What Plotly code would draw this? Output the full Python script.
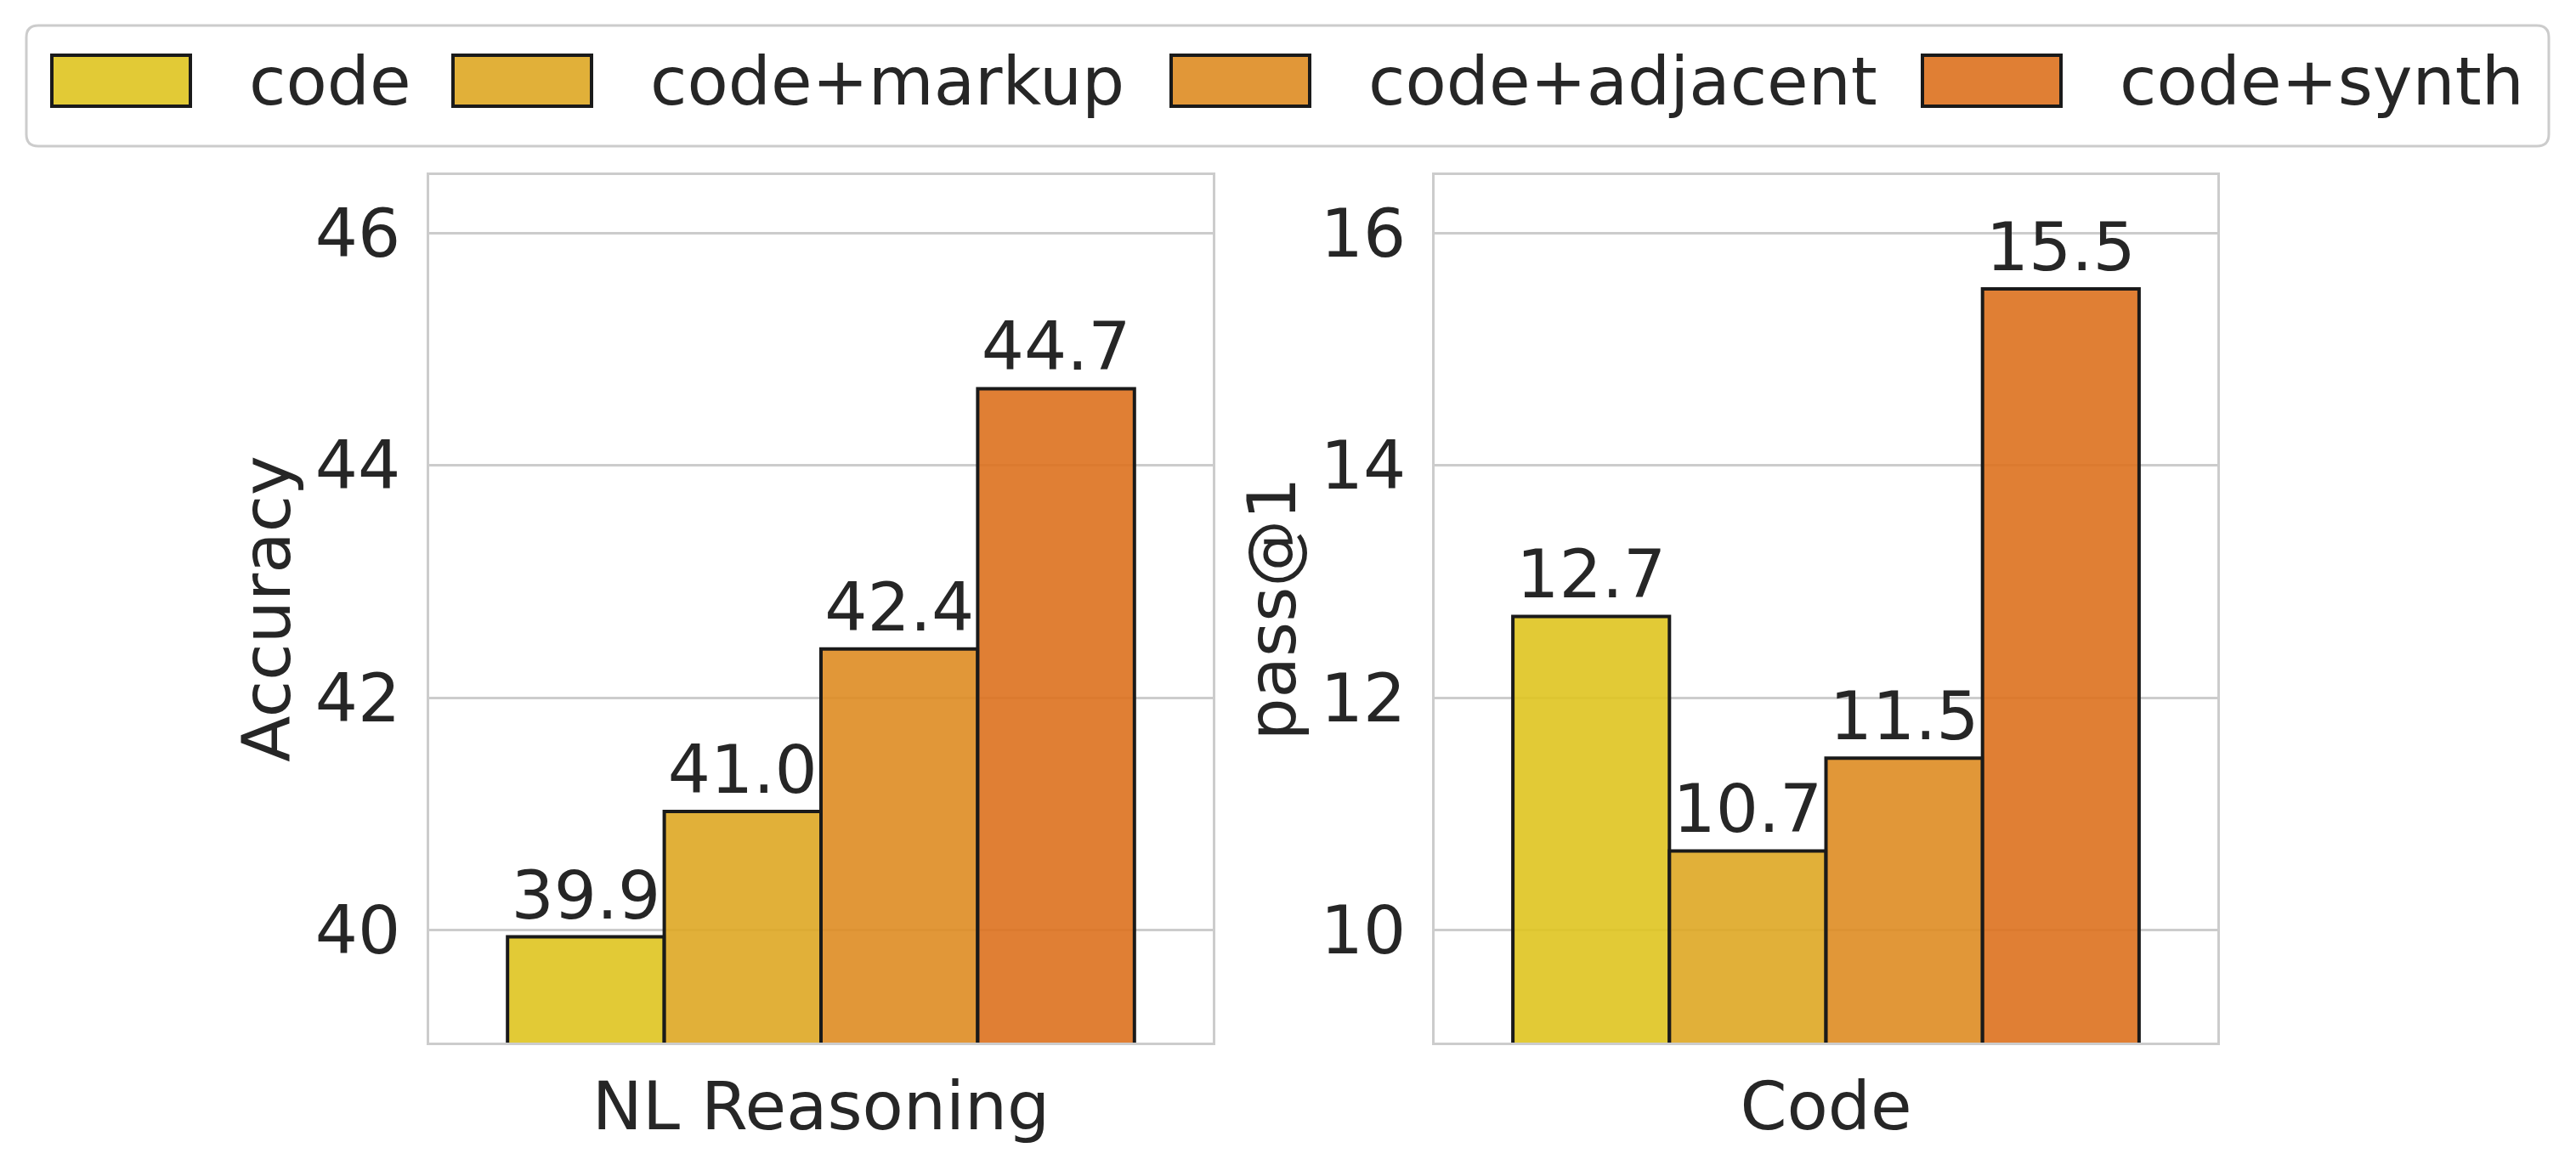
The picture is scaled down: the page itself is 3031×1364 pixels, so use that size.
import plotly.graph_objects as go

# data
series = ["code", "code+markup", "code+adjacent", "code+synth"]
colors = [(223, 196, 32), (222, 167, 36), (222, 140, 34), (221, 113, 30)]
panels = ["NL Reasoning", "Code"]
nl_accuracy = [39.94, 41.02, 42.42, 44.66]
code_pass1 = [12.70, 10.68, 11.48, 15.52]
y_titles = ["Accuracy", "pass@1"]
y_ranges = [[39.03, 46.5], [9.03, 16.5]]
y_ticks = [[40, 42, 44, 46], [10, 12, 14, 16]]

W, H = 3031, 1364
OFF = 8  # default body margin of the html page
FW, FH = W - 2 * OFF, H - 2 * OFF
FONT = "DejaVu Sans"
TXT = "#262626"
FS = 79


def px(x):
    return (x - OFF) / FW


def py(y):
    return 1 - (y - OFF) / FH


def rgba(c, a):
    return "rgba(%d,%d,%d,%s)" % (c[0], c[1], c[2], a)


fig = go.Figure()

for i, name in enumerate(series):
    for j, vals in enumerate([nl_accuracy, code_pass1]):
        fig.add_trace(go.Bar(
            x=[panels[j]], y=[vals[i]], name=name,
            xaxis="x" if j == 0 else "x2", yaxis="y" if j == 0 else "y2",
            marker=dict(color=rgba(colors[i], 0.9), line=dict(color="#1a1a1a", width=4)),
            texttemplate="%{y:.1f}", textposition="outside", cliponaxis=False,
            constraintext="none", textfont=dict(size=FS, color=TXT, family=FONT),
            showlegend=False,
        ))

axis_common = dict(showline=True, mirror=True, linecolor="#cccccc", linewidth=2.7,
                   tickfont=dict(size=FS, color=TXT, family=FONT), ticks="")
fig.update_layout(
    width=FW, height=FH, margin=dict(l=0, r=0, t=0, b=0),
    paper_bgcolor="white", plot_bgcolor="white",
    barmode="group", bargap=0.2, bargroupgap=0,
    font=dict(family=FONT, size=FS, color=TXT),
    xaxis=dict(domain=[px(505), px(1427)], anchor="y", showgrid=False,
               ticklabelstandoff=4, **axis_common),
    xaxis2=dict(domain=[px(1688), px(2609)], anchor="y2", showgrid=False,
                ticklabelstandoff=4, **axis_common),
    yaxis=dict(domain=[py(1227), py(206)], anchor="x", range=y_ranges[0],
               tickvals=y_ticks[0], showgrid=True, gridcolor="#cccccc", gridwidth=2.7,
               zeroline=False, ticklabelstandoff=15,
               title=dict(text=y_titles[0], font=dict(size=FS, color=TXT), standoff=4),
               **axis_common),
    yaxis2=dict(domain=[py(1227), py(206)], anchor="x2", range=y_ranges[1],
                tickvals=y_ticks[1], showgrid=True, gridcolor="#cccccc", gridwidth=2.7,
                zeroline=False, ticklabelstandoff=15,
                title=dict(text=y_titles[1], font=dict(size=FS, color=TXT), standoff=4),
                **axis_common),
)

# legend drawn as a framed row of swatches
bx0, bx1, by0, by1, r = 31, 2999, 30, 172, 14
box = ("M %f,%f L %f,%f Q %f,%f %f,%f L %f,%f Q %f,%f %f,%f L %f,%f Q %f,%f %f,%f "
       "L %f,%f Q %f,%f %f,%f Z") % (
    px(bx0 + r), py(by0), px(bx1 - r), py(by0), px(bx1), py(by0), px(bx1), py(by0 + r),
    px(bx1), py(by1 - r), px(bx1), py(by1), px(bx1 - r), py(by1),
    px(bx0 + r), py(by1), px(bx0), py(by1), px(bx0), py(by1 - r),
    px(bx0), py(by0 + r), px(bx0), py(by0), px(bx0 + r), py(by0))
fig.add_shape(type="path", path=box, xref="paper", yref="paper",
              line=dict(color="#cccccc", width=3), fillcolor="white")

swatch_x = [61, 533, 1378, 2262]
for i, name in enumerate(series):
    x0 = swatch_x[i]
    fig.add_shape(type="rect", xref="paper", yref="paper",
                  x0=px(x0), x1=px(x0 + 163), y0=py(125), y1=py(65),
                  fillcolor=rgba(colors[i], 0.9), line=dict(color="#1a1a1a", width=4))
    fig.add_annotation(x=px(x0 + 230), y=py(96), xref="paper", yref="paper",
                       text=name, showarrow=False, xanchor="left", yanchor="middle",
                       font=dict(size=FS, color=TXT, family=FONT))

fig.write_html("out.html")
